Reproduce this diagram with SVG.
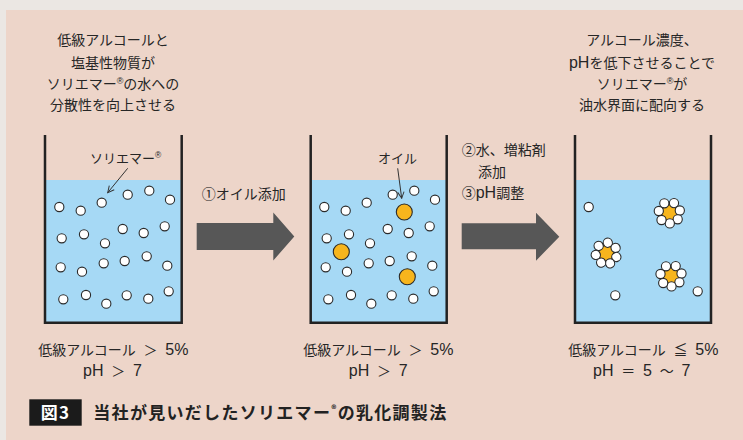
<svg xmlns="http://www.w3.org/2000/svg" xmlns:xlink="http://www.w3.org/1999/xlink" width="743" height="440" viewBox="0 0 743 440">
  <style>
    .txt { font-family: "Liberation Sans", "Noto Sans CJK JP", sans-serif; font-size: 14px; fill: #262626; }
    .lbl { font-family: "Liberation Sans", "Noto Sans CJK JP", sans-serif; font-size: 13px; fill: #262626; }
    .lat { font-size: 16px; }
    .mid { text-anchor: middle; }
    .cap { font-family: "Noto Sans CJK JP", sans-serif; font-size: 17px; font-weight: bold; fill: #222; letter-spacing: 1.3px; }
    .water { fill: #a6d9f5; }
    .wall { fill: none; stroke: #222; stroke-width: 2.5; }
    .mol { fill: #fff; stroke: #2a2a2a; stroke-width: 1.1; }
    .oil { fill: #f7b51d; stroke: #2a2a2a; stroke-width: 1.1; }
    .block { fill: #575757; }
    .pointer { fill: none; stroke: #333; stroke-width: 1; }
  </style>
  <defs>
    <circle id="m" r="4.6" class="mol"/>
    <marker id="tip" viewBox="0 0 10 10" refX="9" refY="5" markerWidth="8" markerHeight="8" orient="auto" markerUnits="userSpaceOnUse">
      <path d="M1,1 L9,5 L1,9" fill="none" stroke="#333" stroke-width="1.2"/>
    </marker>
    <!-- the scattered molecules shared by the first two beakers -->
    <g id="scatter">
      <use xlink:href="#m" x="59.3" y="207"/>
      <use xlink:href="#m" x="80.7" y="210.7"/>
      <use xlink:href="#m" x="101.7" y="202.7"/>
      <use xlink:href="#m" x="127.7" y="194.7"/>
      <use xlink:href="#m" x="149.3" y="190.7"/>
      <use xlink:href="#m" x="170" y="199.7"/>
      <use xlink:href="#m" x="61.7" y="238.3"/>
      <use xlink:href="#m" x="84" y="234.3"/>
      <use xlink:href="#m" x="105" y="243.3"/>
      <use xlink:href="#m" x="122.7" y="229"/>
      <use xlink:href="#m" x="143.7" y="233"/>
      <use xlink:href="#m" x="164.7" y="226.3"/>
      <use xlink:href="#m" x="60.7" y="267.3"/>
      <use xlink:href="#m" x="82" y="271.7"/>
      <use xlink:href="#m" x="103.7" y="263.3"/>
      <use xlink:href="#m" x="124.7" y="261"/>
      <use xlink:href="#m" x="146.7" y="256.3"/>
      <use xlink:href="#m" x="167.3" y="265.7"/>
      <use xlink:href="#m" x="63.3" y="299.3"/>
      <use xlink:href="#m" x="86" y="295"/>
      <use xlink:href="#m" x="106.3" y="303.7"/>
      <use xlink:href="#m" x="126.7" y="295.3"/>
      <use xlink:href="#m" x="148.3" y="298.7"/>
      <use xlink:href="#m" x="168.7" y="291.3"/>
    </g>
    <!-- oil droplet wrapped by seven molecules -->
    <g id="micelle">
      <circle r="8" class="oil"/>
      <use xlink:href="#m" x="-5.0" y="-9.4"/>
      <use xlink:href="#m" x="4.7" y="-9.6"/>
      <use xlink:href="#m" x="10.5" y="-2.2"/>
      <use xlink:href="#m" x="8.4" y="6.6"/>
      <use xlink:href="#m" x="0.5" y="10.7"/>
      <use xlink:href="#m" x="-7.8" y="7.3"/>
      <use xlink:href="#m" x="-10.5" y="-1.7"/>
    </g>
  </defs>

  <!-- page and panel -->
  <rect x="0" y="0" width="743" height="440" fill="#ebe7e3"/>
  <rect x="6" y="10" width="737" height="430" fill="#edd5c9"/>

  <!-- headings -->
  <g id="note-left">
    <text class="txt mid" x="113" y="45">低級アルコールと</text>
    <text class="txt mid" x="113" y="67.5">塩基性物質が</text>
    <text class="txt mid" x="113" y="88.5">ソリエマー<tspan font-size="9" dy="-5">®</tspan><tspan dy="5">の水への</tspan></text>
    <text class="txt mid" x="113" y="110">分散性を向上させる</text>
  </g>
  <g id="note-right">
    <text class="txt mid" x="642" y="45">アルコール濃度、</text>
    <text class="txt mid" x="642" y="67.5"><tspan class="lat">pH</tspan>を低下させることで</text>
    <text class="txt mid" x="642" y="88.5">ソリエマー<tspan font-size="9" dy="-5">®</tspan><tspan dy="5">が</tspan></text>
    <text class="txt mid" x="642" y="110">油水界面に配向する</text>
  </g>

  <!-- beaker 1 -->
  <g id="beaker-1">
    <rect class="water" x="45" y="180" width="136.7" height="142.7"/>
    <path class="wall" d="M45,135 V322.7 H181.7 V135"/>
    <use xlink:href="#scatter"/>
    <text class="lbl" x="90" y="162.5">ソリエマー<tspan font-size="8.5" dy="-5">®</tspan></text>
    <text class="txt mid" x="113.3" y="354.5">低級アルコール&#160;&#160;＞&#160;&#160;<tspan class="lat">5%</tspan></text>
    <text class="txt mid" x="112.5" y="375.5"><tspan class="lat">pH</tspan>&#160;&#160;＞&#160;&#160;<tspan class="lat">7</tspan></text>
  </g>

  <!-- beaker 2 -->
  <g id="beaker-2">
    <rect class="water" x="310.7" y="180" width="136" height="142.7"/>
    <path class="wall" d="M310.7,135 V322.7 H446.7 V135"/>
    <use xlink:href="#scatter" x="265"/>
    <circle class="oil" cx="404.3" cy="212" r="8"/>
    <circle class="oil" cx="341.3" cy="251.7" r="8"/>
    <circle class="oil" cx="407.3" cy="276.7" r="8"/>
    <text class="lbl" x="378" y="162.5">オイル</text>
    <text class="txt mid" x="378.3" y="354.5">低級アルコール&#160;&#160;＞&#160;&#160;<tspan class="lat">5%</tspan></text>
    <text class="txt mid" x="378.3" y="375.5"><tspan class="lat">pH</tspan>&#160;&#160;＞&#160;&#160;<tspan class="lat">7</tspan></text>
  </g>

  <!-- beaker 3 -->
  <g id="beaker-3">
    <rect class="water" x="575" y="180" width="136" height="142.7"/>
    <path class="wall" d="M575,135 V322.7 H711 V135"/>
    <use xlink:href="#m" x="588.7" y="207"/>
    <use xlink:href="#m" x="615.3" y="295.3"/>
    <use xlink:href="#m" x="697.7" y="291.3"/>
    <use xlink:href="#micelle" x="669.3" y="212.7"/>
    <use xlink:href="#micelle" x="606.3" y="253.3" transform="rotate(-18 606.3 253.3)"/>
    <use xlink:href="#micelle" x="671" y="275.7"/>
    <text class="txt mid" x="643.3" y="354.5">低級アルコール&#160;&#160;≦&#160;&#160;<tspan class="lat">5%</tspan></text>
    <text class="txt mid" x="641.7" y="375.5"><tspan class="lat">pH</tspan>&#160;&#160;＝&#160;&#160;<tspan class="lat">5</tspan>&#160;&#160;～&#160;&#160;<tspan class="lat">7</tspan></text>
  </g>

  <!-- step 1 -->
  <g id="step-1">
    <polygon class="block" points="196.7,223 273.3,223 273.3,212.5 294.3,236.5 273.3,260.5 273.3,250 196.7,250"/>
    <text class="txt" x="201.7" y="199">①オイル添加</text>
  </g>

  <!-- steps 2 and 3 -->
  <g id="step-2">
    <polygon class="block" points="461.7,223.3 536,223.3 536,212.7 559.3,236.7 536,260.7 536,249.3 461.7,249.3"/>
    <text class="txt" x="461.7" y="155">②水、増粘剤</text>
    <text class="txt" x="478" y="176.5">添加</text>
    <text class="txt" x="461.7" y="198">③<tspan class="lat">pH</tspan>調整</text>
  </g>

  <!-- label pointers -->
  <g id="connectors">
    <path class="pointer" d="M127.7,168.3 L107.7,192.7" marker-end="url(#tip)"/>
    <path class="pointer" d="M397.7,168.3 L401.7,198.3" marker-end="url(#tip)"/>
  </g>

  <!-- caption -->
  <g id="caption">
    <rect x="29.3" y="399.3" width="52.4" height="26.4" fill="#1b1b1b"/>
    <text class="cap mid" x="55.5" y="418.5" style="fill:#fff">図3</text>
    <text class="cap" x="93.3" y="418.5">当社が見いだしたソリエマー<tspan font-size="10" dy="-6">®</tspan><tspan dy="6">の乳化調製法</tspan></text>
  </g>
</svg>
